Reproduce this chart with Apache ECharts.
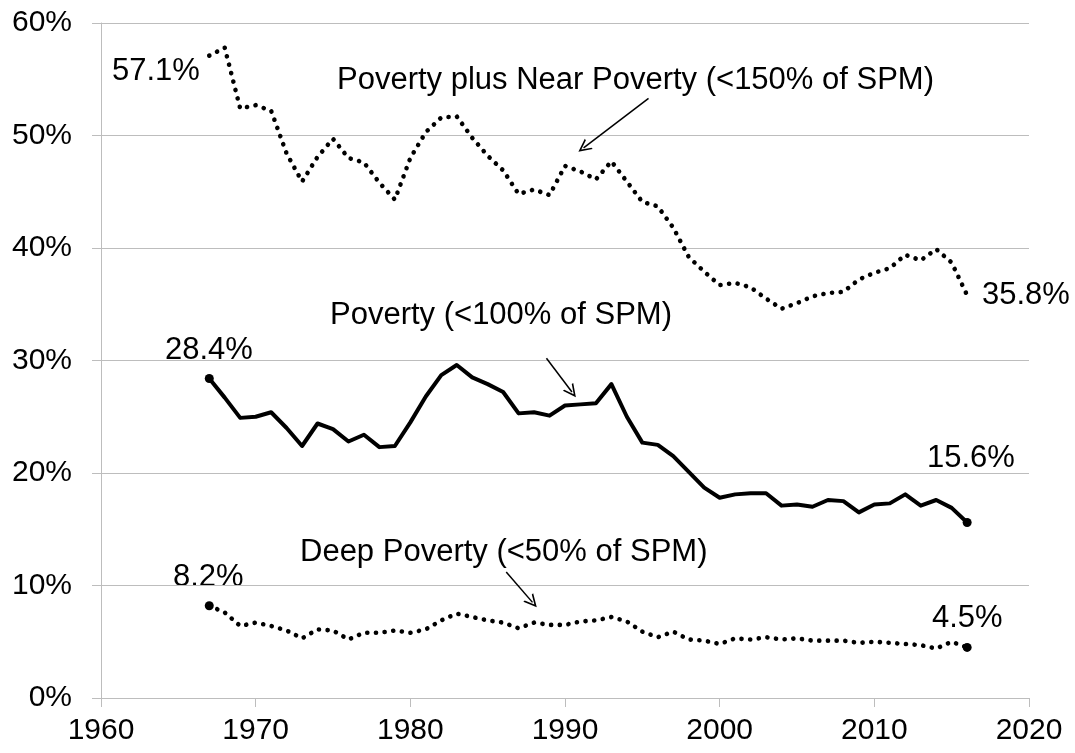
<!DOCTYPE html>
<html>
<head>
<meta charset="utf-8">
<script src="https://cdn.jsdelivr.net/npm/echarts@6/dist/echarts.min.js"></script>
<style>
  html, body { margin: 0; padding: 0; background: #fff; }
  #chart { width: 1075px; height: 753px; }
</style>
</head>
<body>
<div id="chart"></div>
<script>
const years = [
  1967, 1968, 1969, 1970, 1971, 1972, 1973, 1974, 1975, 1976,
  1977, 1978, 1979, 1980, 1981, 1982, 1983, 1984, 1985, 1986,
  1987, 1988, 1989, 1990, 1991, 1992, 1993, 1994, 1995, 1996,
  1997, 1998, 1999, 2000, 2001, 2002, 2003, 2004, 2005, 2006,
  2007, 2008, 2009, 2010, 2011, 2012, 2013, 2014, 2015, 2016
]
// poverty plus near poverty (<150% of SPM)
const nearPoverty = [
  57.1, 57.8, 52.4, 52.7, 52.2, 48.4, 45.9, 48.1, 49.7, 48.0,
  47.6, 45.8, 44.3, 48.0, 50.3, 51.6, 51.7, 49.8, 48.2, 46.9,
  44.8, 45.2, 44.7, 47.3, 46.8, 46.1, 47.7, 45.9, 44.1, 43.7,
  41.8, 39.2, 37.9, 36.7, 36.9, 36.5, 35.5, 34.6, 35.1, 35.7,
  36.0, 36.1, 37.2, 37.8, 38.2, 39.4, 38.9, 39.9, 38.7, 35.8
]
// poverty (<100% of SPM)
const poverty = [
  28.4, 26.7, 24.9, 25.0, 25.4, 24.0, 22.4, 24.4, 23.9, 22.8,
  23.4, 22.3, 22.4, 24.5, 26.8, 28.7, 29.6, 28.5, 27.9, 27.2,
  25.3, 25.4, 25.1, 26.0, 26.1, 26.2, 27.9, 25.0, 22.7, 22.5,
  21.5, 20.1, 18.7, 17.8, 18.1, 18.2, 18.2, 17.1, 17.2, 17.0,
  17.6, 17.5, 16.5, 17.2, 17.3, 18.1, 17.1, 17.6, 16.9, 15.6
]
// deep poverty (<50% of SPM)
const deepPoverty = [
  8.2, 7.6, 6.4, 6.7, 6.4, 6.0, 5.3, 6.1, 6.0, 5.2,
  5.8, 5.8, 6.0, 5.8, 6.1, 6.9, 7.5, 7.2, 6.9, 6.7,
  6.2, 6.7, 6.5, 6.5, 6.8, 6.9, 7.2, 6.8, 5.9, 5.4,
  5.9, 5.2, 5.1, 4.8, 5.3, 5.2, 5.4, 5.2, 5.3, 5.1,
  5.1, 5.1, 4.9, 5.0, 4.9, 4.8, 4.7, 4.4, 5.0, 4.5
]
const xTicks = [1960, 2020, 10]
const yTicks = [0, 60, 10]

const toPairs = (values) => values.map((v, i) => [years[i], v])
const endDots = (value, params) => {
  return (params.dataIndex === 0 || params.dataIndex === years.length - 1) ? 9 : 0
}

const gray = '#bdbdbd'
const font = 'Liberation Sans, Arial, sans-serif'
const openArrow = 'path://M0,10 L5,0 L10,10 L8.6,10 L5,2.8 L1.4,10 Z'

const arrow = (from, to) => ({
  silent: true,
  symbol: ['none', openArrow],
  symbolSize: [13, 13],
  label: { show: false },
  lineStyle: { color: '#000', width: 1.5, type: 'solid' },
  emphasis: { disabled: true },
  data: [[{ coord: from }, { coord: to }]]
})

const chart = echarts.init(document.getElementById('chart'))

const dotted = {
  color: '#000',
  width: 4.6,
  type: [0.1, 8.6],
  cap: 'round',
  join: 'round'
}

chart.setOption({
  animation: false,
  grid: { left: 101, right: 46, top: 23, bottom: 55, containLabel: false },
  xAxis: {
    type: 'value',
    min: xTicks[0],
    max: xTicks[1],
    interval: xTicks[2],
    axisLine: { show: true, lineStyle: { color: gray, width: 1 } },
    axisTick: { show: true, length: 9, lineStyle: { color: gray } },
    splitLine: { show: false },
    axisLabel: {
      color: '#000', fontSize: 30, fontFamily: font, margin: 18,
      formatter: (v) => String(v)
    }
  },
  yAxis: {
    type: 'value',
    min: yTicks[0],
    max: yTicks[1],
    interval: yTicks[2],
    axisLine: { show: true, lineStyle: { color: gray, width: 1 } },
    axisTick: { show: true, length: 9, lineStyle: { color: gray } },
    splitLine: { show: true, lineStyle: { color: gray, width: 1 } },
    axisLabel: { color: '#000', fontSize: 30, fontFamily: font, margin: 29, formatter: '{value}%' }
  },
  series: [
    {
      name: 'Poverty plus Near Poverty (<150% of SPM)',
      type: 'line',
      data: toPairs(nearPoverty),
      showSymbol: false,
      lineStyle: dotted,
      markLine: arrow([1995.4, 53.3], [1991.2, 48.9])
    },
    {
      name: 'Poverty (<100% of SPM)',
      type: 'line',
      data: toPairs(poverty),
      symbol: 'circle',
      symbolSize: endDots,
      itemStyle: { color: '#000' },
      lineStyle: { color: '#000', width: 4, join: 'round' },
      markLine: arrow([1988.8, 30.2], [1990.45, 27.2])
    },
    {
      name: 'Deep Poverty (<50% of SPM)',
      type: 'line',
      data: toPairs(deepPoverty),
      symbol: 'circle',
      symbolSize: endDots,
      itemStyle: { color: '#000' },
      lineStyle: dotted,
      markLine: arrow([1986.2, 11.2], [1987.9, 8.5])
    }
  ],
  graphic: [
    ['57.1%', 112, 71],
    ['Poverty plus Near Poverty (<150% of SPM)', 337, 80],
    ['35.8%', 982, 295],
    ['28.4%', 165, 350],
    ['Poverty (<100% of SPM)', 330, 315],
    ['15.6%', 927, 458],
    ['Deep Poverty (<50% of SPM)', 300, 552],
    ['8.2%', 173, 577],
    ['4.5%', 932, 618]
  ].map(([text, x, y]) => ({
    type: 'text',
    x,
    y,
    silent: true,
    style: {
      text,
      fill: '#000',
      font: '31px ' + font,
      textAlign: 'left',
      textVerticalAlign: 'middle'
    }
  }))
})
</script>
</body>
</html>
